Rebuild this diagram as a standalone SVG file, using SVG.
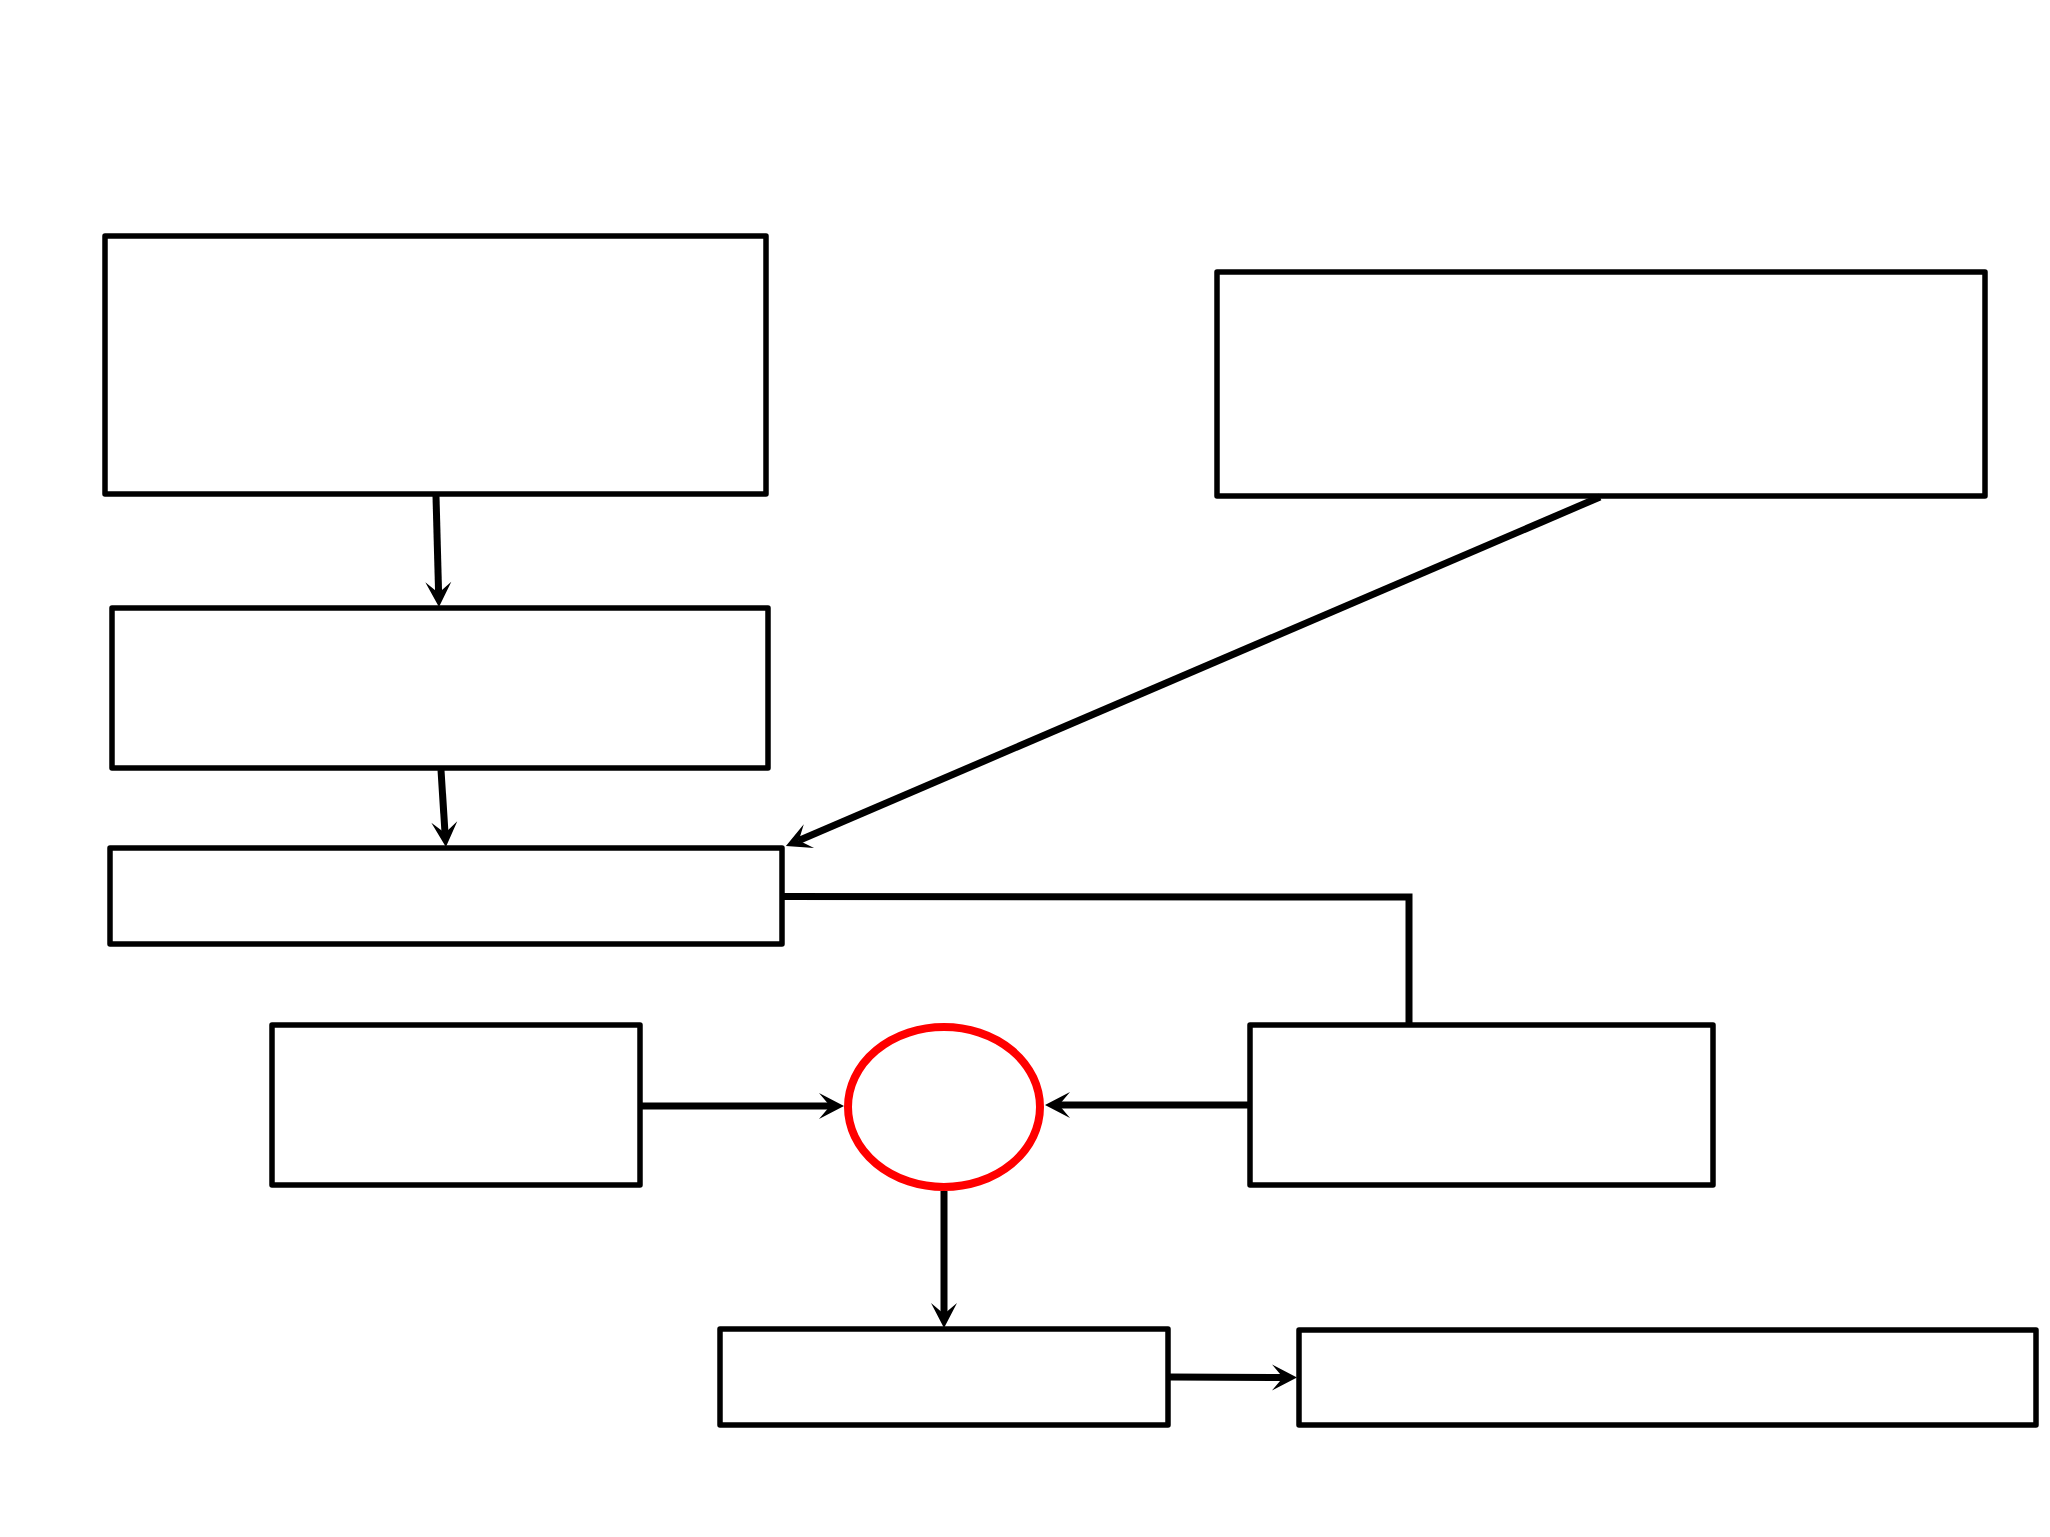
<svg xmlns="http://www.w3.org/2000/svg" width="2050" height="1537" viewBox="0 0 2050 1537">
<style>
.box{fill:#fff;stroke:#000;stroke-width:5.5;stroke-linejoin:round}
.con{fill:none;stroke:#000;stroke-width:7}
.ell{fill:#fff;stroke:#f00;stroke-width:8}
</style>
<defs>
<marker id="ah" markerUnits="userSpaceOnUse" markerWidth="34" markerHeight="34" viewBox="-16 -16 34 32" refX="0" refY="0" orient="auto">
<path d="M14,0 L-11,-13 L0,0 L-11,13 Z" fill="#000"/>
</marker>
</defs>
<rect width="2050" height="1537" fill="#fff"/>
<g id="n1"><rect class="box" x="105" y="236" width="661" height="258"/></g>
<g id="n2"><rect class="box" x="1217" y="272" width="768" height="224"/></g>
<g id="n3"><rect class="box" x="112" y="608" width="656" height="160"/></g>
<g id="n4"><rect class="box" x="110" y="848" width="672" height="96"/></g>
<g id="n5"><rect class="box" x="272" y="1025" width="368" height="160"/></g>
<g id="n6"><ellipse class="ell" cx="944" cy="1107" rx="96" ry="80"/></g>
<g id="n7"><rect class="box" x="1250" y="1025" width="463" height="160"/></g>
<g id="n8"><rect class="box" x="720" y="1329" width="448" height="96"/></g>
<g id="n9"><rect class="box" x="1299" y="1330" width="737" height="95"/></g>
<g id="connectors">
<line class="con" x1="436" y1="496" x2="438.6" y2="593" marker-end="url(#ah)"/>
<line class="con" x1="441" y1="770" x2="445" y2="833" marker-end="url(#ah)"/>
<line class="con" x1="1600" y1="497" x2="798.8" y2="840.5" marker-end="url(#ah)"/>
<polyline class="con" points="782,896.5 1409,897 1409,1025"/>
<line class="con" x1="641" y1="1106" x2="830" y2="1106" marker-end="url(#ah)"/>
<line class="con" x1="1249" y1="1105" x2="1059" y2="1105" marker-end="url(#ah)"/>
<line class="con" x1="944" y1="1191" x2="944" y2="1314" marker-end="url(#ah)"/>
<line class="con" x1="1169" y1="1377" x2="1283" y2="1377.5" marker-end="url(#ah)"/>
</g>
</svg>
